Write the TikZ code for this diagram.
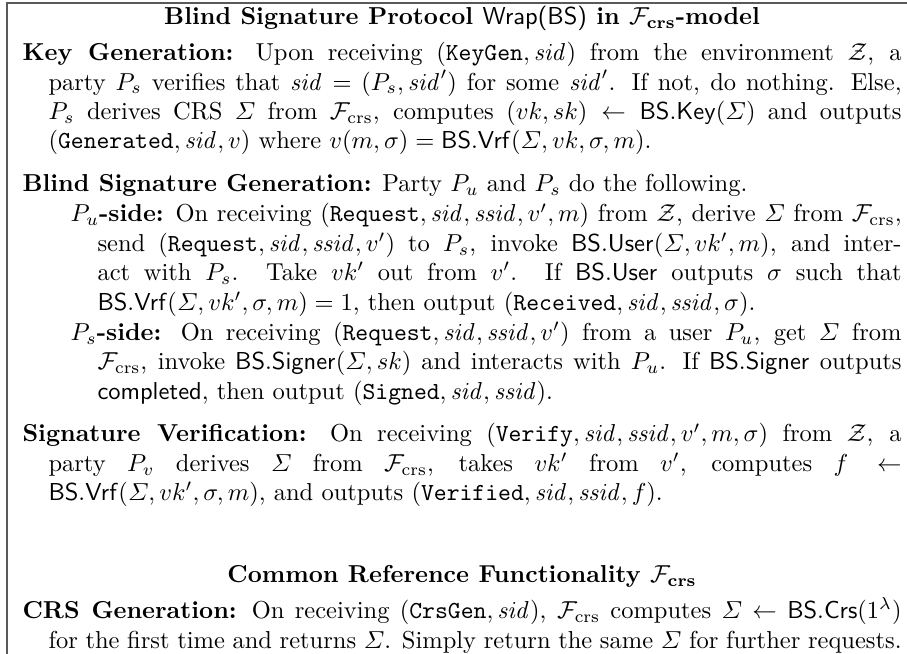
\documentclass[tikz,border=0pt]{standalone}
\usepackage{amsmath}
\usepackage{amssymb}
\usetikzlibrary{positioning}

\newcommand{\sid}{\mathit{sid}}
\newcommand{\ssid}{\mathit{ssid}}
\newcommand{\Fcrs}{\mathcal{F}_{\text{crs}}}
\newcommand{\BS}[1]{\mathsf{BS.#1}}
\newcommand{\msg}[1]{\mathtt{#1}}

\tikzset{
  para/.style={inner sep=0pt, text width=#1, align=justify, anchor=north west},
  para/.default=358.8pt,
  heading/.style={inner sep=0pt, font=\bfseries},
  frame/.style={black!65, line width=0.5pt}
}

\begin{document}
\begin{tikzpicture}[x=1pt, y=1pt]

\useasboundingbox (0,0) rectangle (370.2,-266.9);

% frame of the figure
\draw[frame] (2.86,-266.9) -- (2.86,-1.22) -- (370.2,-1.22);

% the protocol
\node[para] (keygen) at (9,-16.2) {\noindent\hangindent=10.6pt\strut
  \textbf{Key Generation:} Upon receiving $(\msg{KeyGen},\sid)$ from the environment $\mathcal{Z}$, a\linebreak
  party $P_s$ verifies that $\sid=(P_s,\sid')$ for some $\sid'$. If not, do nothing. Else,\linebreak
  $P_s$ derives CRS $\varSigma$ from $\Fcrs$, computes $(vk,sk)\leftarrow\BS{Key}(\varSigma)$ and outputs\linebreak
  $(\msg{Generated},\sid,v)$ where $v(m,\sigma)=\BS{Vrf}(\varSigma,vk,\sigma,m)$.\strut\par};

\node[heading, above=2.3pt of keygen.north] (title) {\strut Blind Signature Protocol \textsf{\mdseries Wrap(BS)} in $\Fcrs$-model};

\node[para, below right=5pt and 0pt of keygen.south west] (blindgen) {\noindent\hangindent=10.6pt\strut
  \textbf{Blind Signature Generation:} Party $P_u$ and $P_s$ do the following.\strut\par};

\node[para=339.2pt, below right=0pt and 19.6pt of blindgen.south west] (userside) {\noindent\hangindent=11pt\strut
  $P_u$\textbf{-side:} On receiving $(\msg{Request},\sid,\ssid,v',m)$ from $\mathcal{Z}$, derive $\varSigma$ from $\Fcrs$,\linebreak
  send $(\msg{Request},\sid,\ssid,v')$ to $P_s$, invoke $\BS{User}(\varSigma,vk',m)$, and inter-\linebreak
  act with $P_s$. Take $vk'$ out from $v'$. If $\BS{User}$ outputs $\sigma$ such that\linebreak
  $\BS{Vrf}(\varSigma,vk',\sigma,m)=1$, then output $(\msg{Received},\sid,\ssid,\sigma)$.\strut\par};

\node[para=339.2pt, below right=0pt and 0pt of userside.south west] (signerside) {\noindent\hangindent=11pt\strut
  $P_s$\textbf{-side:} On receiving $(\msg{Request},\sid,\ssid,v')$ from a user $P_u$, get $\varSigma$ from\linebreak
  $\Fcrs$, invoke $\BS{Signer}(\varSigma,sk)$ and interacts with $P_u$. If $\BS{Signer}$ outputs\linebreak
  $\mathsf{completed}$, then output $(\msg{Signed},\sid,\ssid)$.\strut\par};

\node[para, below right=5pt and -19.6pt of signerside.south west] (verify) {\noindent\hangindent=10.6pt\strut
  \textbf{Signature Verification:} On receiving $(\msg{Verify},\sid,\ssid,v',m,\sigma)$ from $\mathcal{Z}$, a\linebreak
  party $P_v$ derives $\varSigma$ from $\Fcrs$, takes $vk'$ from $v'$, computes $f\leftarrow$\linebreak
  $\BS{Vrf}(\varSigma,vk',\sigma,m)$, and outputs $(\msg{Verified},\sid,\ssid,f)$.\strut\par};

% the functionality
\node[heading, below=21pt of verify.south] (crstitle) {\strut Common Reference Functionality $\Fcrs$\strut};

\node[para, below right=2.3pt and 0pt of verify.south west |- crstitle.south] (crsgen) {\noindent\hangindent=10.6pt\strut
  \textbf{CRS Generation:} On receiving $(\msg{CrsGen},\sid)$, $\Fcrs$ computes $\varSigma\leftarrow\BS{Crs}(1^\lambda)$\linebreak
  for the first time and returns $\varSigma$. Simply return the same $\varSigma$ for further requests.\strut\par};

\end{tikzpicture}
\end{document}
